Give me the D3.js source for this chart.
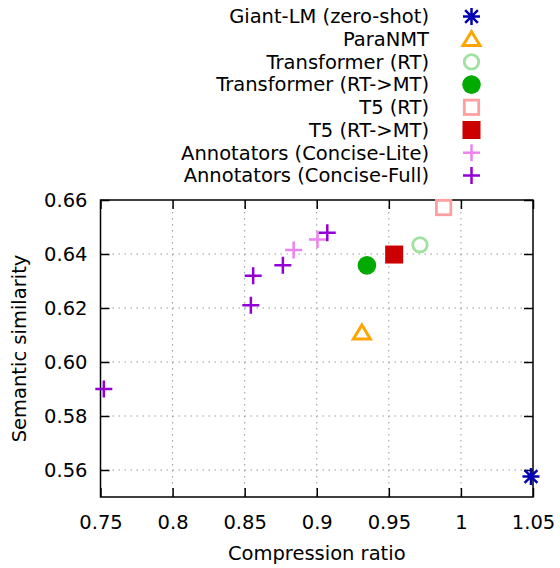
<!DOCTYPE html>
<html>
<head>
<meta charset="utf-8">
<script src="https://cdn.jsdelivr.net/npm/d3@7"></script>
<style>
body { margin: 0; background: #fff; }
text { font-family: "DejaVu Sans", sans-serif; fill: #000; }
</style>
</head>
<body>
<svg width="560" height="568"></svg>
<script>
// series
var seriesNames = ["Giant-LM (zero-shot)", "ParaNMT", "Transformer (RT)", "Transformer (RT->MT)",
  "T5 (RT)", "T5 (RT->MT)", "Annotators (Concise-Lite)", "Annotators (Concise-Full)"];
var seriesColors = ["#0000b4", "#ffa500", "#a0e0a0", "#00aa00", "#ffa0a0", "#cc0000", "#ee82ee", "#9400d3"];
var seriesShapes = ["star", "triangle", "circle", "circleFill", "square", "squareFill", "plus", "plus"];

// points: [compression ratio, semantic similarity]
var giantLM = [[1.0486, 0.5576]];
var paraNMT = [[0.9313, 0.6109]];
var transformerRT = [[0.9716, 0.6434]];
var transformerRTMT = [[0.9348, 0.6358]];
var t5RT = [[0.988, 0.6572]];
var t5RTMT = [[0.9537, 0.6398]];
var conciseLite = [[0.884, 0.6415], [0.9005, 0.6454]];
var conciseFull = [[0.7523, 0.590], [0.8543, 0.621], [0.8559, 0.6319], [0.8765, 0.6358], [0.9073, 0.6479]];
var seriesData = [giantLM, paraNMT, transformerRT, transformerRTMT, t5RT, t5RTMT, conciseLite, conciseFull];

var xTicks = [0.75, 0.8, 0.85, 0.9, 0.95, 1, 1.05];
var yTicks = [0.56, 0.58, 0.60, 0.62, 0.64, 0.66];

var svg = d3.select("svg");
var pLeft = 100.5, pRight = 533, pTop = 200, pBottom = 497;
var fs = "19.5px";

var x = d3.scaleLinear().domain([0.75, 1.05]).range([pLeft, pRight]);
var y = d3.scaleLinear().domain([0.55, 0.66]).range([pBottom, pTop]);

// grid
var grid = svg.append("g").attr("stroke", "#999").attr("stroke-width", 1)
  .attr("stroke-dasharray", "1.5,4.5");
grid.selectAll(".gx").data(xTicks.slice(1, -1)).enter().append("line")
  .attr("x1", d => x(d)).attr("x2", d => x(d)).attr("y1", pTop).attr("y2", pBottom);
grid.selectAll(".gy").data(yTicks.slice(0, -1)).enter().append("line")
  .attr("x1", pLeft).attr("x2", pRight).attr("y1", d => y(d)).attr("y2", d => y(d));

// axes with inward ticks, mirrored
var tl = 9;
var xb = svg.append("g").attr("transform", "translate(0," + pBottom + ")")
  .call(d3.axisBottom(x).tickValues(xTicks).tickSize(-tl).tickPadding(tl + 9).tickFormat(d3.format("")));
var xt = svg.append("g").attr("transform", "translate(0," + pTop + ")")
  .call(d3.axisTop(x).tickValues(xTicks).tickSize(-tl).tickFormat(""));
var yl = svg.append("g").attr("transform", "translate(" + pLeft + ",0)")
  .call(d3.axisLeft(y).tickValues(yTicks).tickSize(-tl).tickPadding(tl + 4).tickFormat(d3.format(".2f")));
var yr = svg.append("g").attr("transform", "translate(" + pRight + ",0)")
  .call(d3.axisRight(y).tickValues(yTicks).tickSize(-tl).tickFormat(""));
[xb, xt, yl, yr].forEach(function(a) {
  a.select(".domain").remove();
  a.selectAll(".tick line").attr("stroke", "#000").attr("stroke-width", 1.5);
  a.selectAll("text").style("font-size", fs).style("font-family", "DejaVu Sans").attr("fill", "#000");
});
svg.append("rect").attr("x", pLeft).attr("y", pTop).attr("width", pRight - pLeft).attr("height", pBottom - pTop)
  .attr("fill", "none").attr("stroke", "#000").attr("stroke-width", 1.5);

// axis titles
svg.append("text").attr("x", (pLeft + pRight) / 2).attr("y", 560).attr("text-anchor", "middle")
  .style("font-size", fs).text("Compression ratio");
svg.append("text").attr("transform", "translate(26," + ((pTop + pBottom) / 2) + ") rotate(-90)")
  .attr("text-anchor", "middle").style("font-size", fs).text("Semantic similarity");

function drawMarker(g, shape, color) {
  var s = 8.5;
  if (shape == "star") {
    g.append("path").attr("d", "M" + (-s) + ",0H" + s + "M0," + (-s) + "V" + s +
      "M" + (-s * 0.75) + "," + (-s * 0.75) + "L" + (s * 0.75) + "," + (s * 0.75) +
      "M" + (-s * 0.75) + "," + (s * 0.75) + "L" + (s * 0.75) + "," + (-s * 0.75))
      .attr("stroke", color).attr("stroke-width", 2.5).attr("fill", "none");
  } else if (shape == "plus") {
    g.append("path").attr("d", "M" + (-s) + ",0H" + s + "M0," + (-s) + "V" + s)
      .attr("stroke", color).attr("stroke-width", 2.5).attr("fill", "none");
  } else if (shape == "triangle") {
    g.append("path").attr("d", "M0," + (-s * 0.9) + "L" + (s * 1.0) + "," + (s * 0.75) + "L" + (-s * 1.0) + "," + (s * 0.75) + "Z")
      .attr("stroke", color).attr("stroke-width", 3).attr("fill", "none");
  } else if (shape == "circle") {
    g.append("circle").attr("r", s - 1.3).attr("stroke", color).attr("stroke-width", 2.8).attr("fill", "none");
  } else if (shape == "circleFill") {
    g.append("circle").attr("r", s + 0.8).attr("fill", color);
  } else if (shape == "square") {
    g.append("rect").attr("x", -s + 1.3).attr("y", -s + 1.3).attr("width", 2 * s - 2.6).attr("height", 2 * s - 2.6)
      .attr("stroke", color).attr("stroke-width", 2.8).attr("fill", "none");
  } else if (shape == "squareFill") {
    g.append("rect").attr("x", -s - 0.5).attr("y", -s - 0.5).attr("width", 2 * s + 1).attr("height", 2 * s + 1).attr("fill", color);
  }
}

// points
seriesData.forEach(function(pts, i) {
  svg.append("g").selectAll("g").data(pts).enter().append("g")
    .attr("transform", d => "translate(" + x(d[0]) + "," + y(d[1]) + ")")
    .each(function() { drawMarker(d3.select(this), seriesShapes[i], seriesColors[i]); });
});

// legend
var legend = svg.append("g");
seriesNames.forEach(function(name, i) {
  var ly = 16.5 + i * 22.7;
  legend.append("text").attr("x", 429).attr("y", ly).attr("dy", "0.35em").attr("text-anchor", "end")
    .style("font-size", fs).text(name);
  drawMarker(legend.append("g").attr("transform", "translate(471.5," + ly + ")"), seriesShapes[i], seriesColors[i]);
});
</script>
</body>
</html>
